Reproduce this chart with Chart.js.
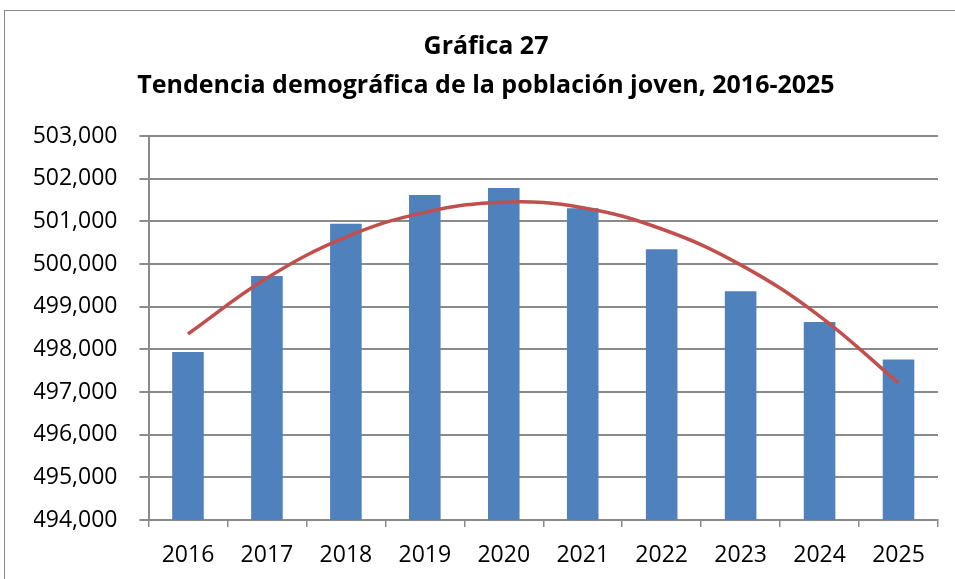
<!DOCTYPE html>
<html lang="es">
<head>
    <meta charset="UTF-8">
    <title>Gráfica 27</title>
    <script src="https://cdn.jsdelivr.net/npm/chart.js"></script>
    <style>
        html, body { margin: 0; padding: 0; background: #fff; overflow: hidden; }
        #wrap { position: relative; width: 955px; height: 579px; }
        #marco { position: absolute; left: 4px; top: 10px; width: 1000px; height: 700px;
                 border: 1.5px solid #8a8a8a; box-sizing: border-box; }
        canvas { position: absolute; left: 0; top: 0; }
    </style>
</head>
<body>
<div id="wrap">
    <div id="marco"></div>
    <canvas id="grafica" width="955" height="579"></canvas>
</div>
<script>
    // años y datos
    const anios = ['2016', '2017', '2018', '2019', '2020', '2021', '2022', '2023', '2024', '2025'];
    const poblacion = [497940, 499720, 500945, 501615, 501780, 501305, 500345, 499360, 498640, 497760];
    const tendencia = [498360, 499670, 500630, 501210, 501450, 501320, 500820, 499980, 498780, 497210];
    const titulo = ['Gráfica 27', 'Tendencia demográfica de la población joven, 2016-2025'];

    const fuente = "'Open Sans', 'Noto Sans', sans-serif";
    const gris = '#8a8a8a';

    const ctx = document.getElementById('grafica').getContext('2d');
    new Chart(ctx, {
        type: 'bar',
        data: {
            labels: anios,
            datasets: [{
                type: 'line',
                data: tendencia,
                borderColor: '#C0504D',
                borderWidth: 3.5,
                pointRadius: 0,
                tension: 0.4,
                fill: false,
                order: 0
            }, {
                data: poblacion,
                backgroundColor: '#4F81BD',
                borderWidth: 0,
                categoryPercentage: 1,
                barPercentage: 0.4,
                order: 1
            }]
        },
        options: {
            responsive: false,
            animation: false,
            // el relleno izquierdo desplaza el título hacia la derecha, como en el original
            layout: { padding: { top: 0, right: 17, bottom: 0, left: 34 } },
            plugins: {
                legend: { display: false },
                tooltip: { enabled: false },
                title: {
                    display: true,
                    text: titulo,
                    color: '#000',
                    font: { family: fuente, size: 25, weight: 'bold', lineHeight: 1.56 },
                    padding: { top: 27.5, bottom: 30.5 }
                }
            },
            scales: {
                x: {
                    grid: { drawOnChartArea: false, tickLength: 7, color: gris, lineWidth: 1.5 },
                    border: { color: gris, width: 2 },
                    ticks: { color: '#000', padding: 15, font: { family: fuente, size: 23 } },
                    afterFit: (s) => { s.height = 59; }
                },
                y: {
                    min: 494000,
                    max: 503000,
                    grid: { tickLength: 9, color: gris, lineWidth: 2 },
                    border: { color: gris, width: 2 },
                    ticks: {
                        stepSize: 1000,
                        color: '#000',
                        padding: 22,
                        font: { family: fuente, size: 23 },
                        callback: (v) => v.toLocaleString('en-US')
                    },
                    afterFit: (s) => { s.width = 114.5; }
                }
            }
        }
    });
</script>
</body>
</html>
